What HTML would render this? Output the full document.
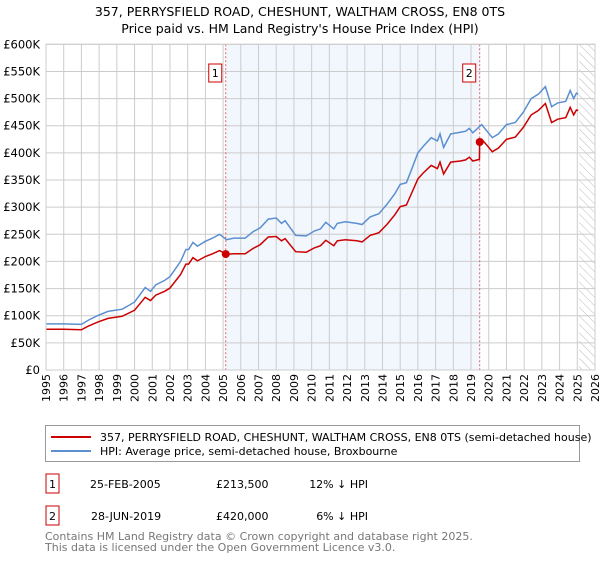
<!DOCTYPE html>
<html><head><meta charset="utf-8"><style>
body{margin:0;background:#fff;font-family:"DejaVu Sans","Liberation Sans",sans-serif;}
svg text{font-family:"DejaVu Sans","Liberation Sans",sans-serif;}
</style></head><body>
<svg id="chart" width="600" height="560" xmlns="http://www.w3.org/2000/svg">
<text x="300" y="16" text-anchor="middle" font-size="12.5">357, PERRYSFIELD ROAD, CHESHUNT, WALTHAM CROSS, EN8 0TS</text>
<text x="300" y="33" text-anchor="middle" font-size="12.5">Price paid vs. HM Land Registry's House Price Index (HPI)</text>
<g id="plot"></g>
<rect x="45.5" y="425.5" width="534" height="36" fill="#fff" stroke="#999"/>
<line x1="51" y1="437" x2="91" y2="437" stroke="#cc0000" stroke-width="2"/>
<text x="100" y="441" font-size="11">357, PERRYSFIELD ROAD, CHESHUNT, WALTHAM CROSS, EN8 0TS (semi-detached house)</text>
<line x1="51" y1="451" x2="91" y2="451" stroke="#5b8fd0" stroke-width="2"/>
<text x="100" y="455" font-size="11">HPI: Average price, semi-detached house, Broxbourne</text>
<g font-size="11">
<rect x="46" y="474" width="13" height="19" fill="#fff" stroke="#cc0000"/>
<text x="52.5" y="488" text-anchor="middle">1</text>
<text x="90" y="488">25-FEB-2005</text>
<text x="216" y="488">£213,500</text>
<text x="368" y="488" text-anchor="end">12% ↓ HPI</text>
</g>
<g font-size="11">
<rect x="46" y="506" width="13" height="19" fill="#fff" stroke="#cc0000"/>
<text x="52.5" y="520" text-anchor="middle">2</text>
<text x="91" y="520">28-JUN-2019</text>
<text x="216" y="520">£420,000</text>
<text x="368" y="520" text-anchor="end">6% ↓ HPI</text>
</g>
<text x="45" y="540" font-size="11" fill="#777">Contains HM Land Registry data © Crown copyright and database right 2025.</text>
<text x="45" y="551" font-size="11" fill="#777">This data is licensed under the Open Government Licence v3.0.</text>
</svg>
<script>
const yTicks=[0,50,100,150,200,250,300,350,400,450,500,550,600];
const yTickLabels=["£0","£50K","£100K","£150K","£200K","£250K","£300K","£350K","£400K","£450K","£500K","£550K","£600K"];
const xTicks=[1995,1996,1997,1998,1999,2000,2001,2002,2003,2004,2005,2006,2007,2008,2009,2010,2011,2012,2013,2014,2015,2016,2017,2018,2019,2020,2021,2022,2023,2024,2025,2026];
const hpiYears=[1995,1996,1997,1997.4,1997.9,1998.5,1999.3,2000,2000.6,2000.9,2001.2,2001.7,2002,2002.6,2002.9,2003.05,2003.3,2003.55,2004,2004.4,2004.8,2005.2,2005.6,2006.25,2006.7,2007.1,2007.55,2008,2008.3,2008.5,2009.1,2009.7,2010.15,2010.5,2010.8,2011.25,2011.45,2011.9,2012.55,2012.85,2013.3,2013.8,2014.25,2014.7,2015,2015.35,2015.65,2016,2016.3,2016.75,2017.1,2017.25,2017.45,2017.85,2018.4,2018.7,2018.9,2019.1,2019.6,2019.9,2020.2,2020.55,2021,2021.5,2021.95,2022.4,2022.8,2023.2,2023.55,2023.9,2024.35,2024.6,2024.8,2024.95,2025.05];
const hpiValues=[85,85,84,92,100,108,112,125,152,145,157,165,172,200,222,222,235,228,237,243,250,240,243,243,255,262,278,280,270,275,248,247,256,260,272,260,270,273,270,268,282,288,305,325,342,345,370,400,412,428,422,435,410,435,438,440,445,437,452,440,428,435,452,456,475,500,508,522,485,492,495,515,500,510,508];
const propYears=[1995,1996,1997,1997.4,1997.9,1998.5,1999.3,2000,2000.6,2000.9,2001.2,2001.7,2002,2002.6,2002.9,2003.05,2003.3,2003.55,2004,2004.4,2004.8,2005.2,2005.6,2006.25,2006.7,2007.1,2007.55,2008,2008.3,2008.5,2009.1,2009.7,2010.15,2010.5,2010.8,2011.25,2011.45,2011.9,2012.55,2012.85,2013.3,2013.8,2014.25,2014.7,2015,2015.35,2015.65,2016,2016.3,2016.75,2017.1,2017.25,2017.45,2017.85,2018.4,2018.7,2018.9,2019.1,2019.47,2019.49,2019.6,2019.9,2020.2,2020.55,2021,2021.5,2021.95,2022.4,2022.8,2023.2,2023.55,2023.9,2024.35,2024.6,2024.8,2024.95,2025.05];
const propValues=[75,75,74,81,88,95,99,110,134,128,138,145,151,176,195,195,207,201,209,214,220,213,214,214,224,231,245,246,238,242,218,217,225,229,239,229,238,240,238,236,248,253,268,286,301,304,326,352,363,377,371,383,361,383,385,387,392,385,388,420,425,414,402,409,425,429,447,470,478,491,456,462,465,484,470,479,478];
const saleYears=[2005.15,2019.49];
const saleValues=[213.5,420];
const saleLabels=["1","2"];

const X0=46,X1=595,Y0=370,Y1=44.3;
const xs=y=>X0+(y-1995)/(2026-1995)*(X1-X0);
const ys=v=>Y0-(v/600)*(Y0-Y1);
const NS="http://www.w3.org/2000/svg";
const plot=document.getElementById('plot');
function mk(t,a){const e=document.createElementNS(NS,t);for(const k in a)e.setAttribute(k,a[k]);plot.appendChild(e);return e;}

let r=mk('rect',{x:xs(saleYears[0]),y:Y1,width:xs(saleYears[1])-xs(saleYears[0]),height:Y0-Y1,fill:'#eef3fc',opacity:0.75});


const defs=mk('defs',{});
defs.innerHTML='<pattern id="hatch" width="6" height="6" patternUnits="userSpaceOnUse" patternTransform="rotate(-45)"><line x1="0" y1="0" x2="0" y2="6" stroke="#bbb" stroke-width="1"/></pattern>';
let h=mk('rect',{x:xs(2025.1),y:Y1,width:X1-xs(2025.1),height:Y0-Y1,fill:'url(#hatch)'});



xTicks.forEach(t=>{
 let l=mk('line',{x1:xs(t),x2:xs(t),y1:Y1,y2:Y0,stroke:'#ccc','stroke-width':1});
 
 
 const tx0=xs(t)+4, ty0=374;
 let tx=mk('text',{x:tx0,y:ty0,'text-anchor':'end','font-size':11,transform:'rotate(-90 '+tx0+' '+ty0+')'});
 tx.textContent=t;
 
 
});
yTicks.forEach((t,i)=>{
 let l=mk('line',{x1:X0,x2:X1,y1:ys(t),y2:ys(t),stroke:'#ccc','stroke-width':1});
 
 
 let tx=mk('text',{x:40,y:ys(t)+4,'text-anchor':'end','font-size':11.5});
 tx.textContent=yTickLabels[i];
 
 
});
saleYears.forEach((s,i)=>{
 let l=mk('line',{x1:xs(s),x2:xs(s),y1:Y1,y2:Y0,stroke:'#e06060','stroke-width':1,'stroke-dasharray':'2,2'});
 
 
 let b=mk('rect',{x:xs(s)-17,y:64,width:13,height:18,fill:'#fff',stroke:'#cc0000'});
 
 
 let t=mk('text',{x:xs(s)-10.5,y:77,'text-anchor':'middle','font-size':11});
 t.textContent=saleLabels[i];
 
 
});
function path(yr,vals){return yr.map((y,i)=>(i?'L':'M')+xs(y).toFixed(1)+','+ys(vals[i]).toFixed(1)).join('');}
let hp=mk('path',{d:path(hpiYears,hpiValues),fill:'none',stroke:'#5b8fd0','stroke-width':1.5});


let pp=mk('path',{d:path(propYears,propValues),fill:'none',stroke:'#cc0000','stroke-width':1.5});


saleYears.forEach((s,i)=>{
 let c=mk('circle',{cx:xs(s),cy:ys(saleValues[i]),r:4,fill:'#cc0000'});
 
 
});
let ax=mk('rect',{x:X0,y:Y1,width:X1-X0,height:Y0-Y1,fill:'none',stroke:'#ccc'});


</script>
</body></html>
